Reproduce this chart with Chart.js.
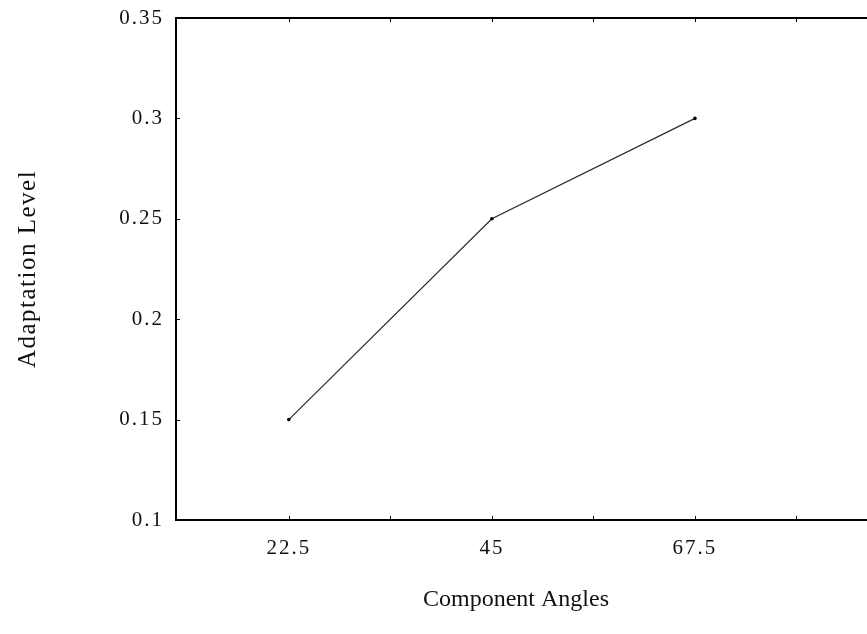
<!DOCTYPE html>
<html>
<head>
<meta charset="utf-8">
<script src="https://cdn.jsdelivr.net/npm/chart.js@4/dist/chart.umd.min.js"></script>
<style>
html,body{margin:0;padding:0;background:#fff;overflow:hidden;width:867px;height:634px;}
#wrap{position:absolute;left:0;top:0;width:902px;height:634px;}
</style>
</head>
<body>
<div id="wrap"><canvas id="c" width="902" height="634"></canvas></div>
<script>
const angles = [22.5, 45, 67.5];
const adaptation = [0.15, 0.25, 0.30];
const xLabelTicks = [22.5, 45, 67.5];
const xMinorTicks = [22.5, 33.75, 45, 56.25, 67.5, 78.75];
const yTicks = [0.1, 0.15, 0.2, 0.25, 0.3, 0.35];

const FONT = "'Liberation Serif', 'Times New Roman', serif";

const styling = {
  id: 'styling',
  afterLayout(chart) {
    const ctx = chart.ctx;
    const cfg = {
      x: { labels: '2px', title: '0px', shift: -21 },
      y: { labels: '2px', title: '1.5px', shift: 0 }
    };
    Object.keys(cfg).forEach(id => {
      const s = chart.scales[id];
      if (!s || s._patched) return;
      const oL = s.drawLabels, oT = s.drawTitle;
      s.drawLabels = function (a) { ctx.save(); ctx.letterSpacing = cfg[id].labels; oL.call(this, a); ctx.restore(); };
      s.drawTitle = function (a) {
        ctx.save(); ctx.letterSpacing = cfg[id].title; ctx.translate(cfg[id].shift, 0);
        oT.call(this, a); ctx.restore();
      };
      s._patched = true;
    });
  },
  afterDraw(chart) {
    const ctx = chart.ctx, a = chart.chartArea;
    const xs = chart.scales.x, ys = chart.scales.y;
    ctx.save();
    ctx.strokeStyle = '#000';
    ctx.lineWidth = 2;
    ctx.beginPath();
    ctx.moveTo(a.left - 1, a.top);
    ctx.lineTo(a.right + 5, a.top);
    ctx.stroke();
    ctx.lineWidth = 1;
    ctx.beginPath();
    xs.ticks.forEach(t => {
      const px = Math.round(xs.getPixelForValue(t.value)) + 0.5;
      ctx.moveTo(px, a.bottom); ctx.lineTo(px, a.bottom - 4);
      ctx.moveTo(px, a.top); ctx.lineTo(px, a.top + 4);
    });
    ys.ticks.forEach(t => {
      const py = Math.round(ys.getPixelForValue(t.value)) + 0.5;
      ctx.moveTo(a.left, py); ctx.lineTo(a.left + 4, py);
    });
    ctx.stroke();
    ctx.restore();
  }
};

new Chart(document.getElementById('c'), {
  type: 'line',
  data: {
    datasets: [{
      data: angles.map((x, i) => ({x: x, y: adaptation[i]})),
      borderColor: '#2a2a2a',
      borderWidth: 1.2,
      pointRadius: 1.8,
      pointBackgroundColor: '#000',
      pointBorderWidth: 0,
      tension: 0
    }]
  },
  plugins: [styling],
  options: {
    responsive: false,
    animation: false,
    events: [],
    layout: { padding: { left: 0, top: 18, right: 4, bottom: 0 } },
    plugins: { legend: { display: false }, tooltip: { enabled: false } },
    scales: {
      x: {
        type: 'linear',
        min: 10,
        max: 90,
        afterFit(s) { s.height = 114; s.paddingLeft = 0; s.paddingRight = 0; },
        afterBuildTicks(s) { s.ticks = xMinorTicks.map(v => ({value: v})); },
        border: { display: true, color: '#000', width: 2 },
        grid: { display: false, drawTicks: false },
        ticks: {
          color: '#111',
          padding: 16,
          font: { family: FONT, size: 21 },
          callback: (v) => xLabelTicks.includes(v) ? String(v) : ''
        },
        title: {
          display: true,
          text: 'Component Angles',
          color: '#111',
          font: { family: FONT, size: 24 },
          padding: { top: 0, bottom: 20 }
        }
      },
      y: {
        min: 0.1,
        max: 0.35,
        afterFit(s) { s.width = 176; s.paddingTop = 0; s.paddingBottom = 0; },
        afterBuildTicks(s) { s.ticks = yTicks.map(v => ({value: v})); },
        border: { display: true, color: '#000', width: 2 },
        grid: { display: false, drawTicks: false },
        ticks: {
          color: '#111',
          padding: 12,
          font: { family: FONT, size: 21 },
          callback: (v) => String(v)
        },
        title: {
          display: true,
          text: 'Adaptation Level',
          color: '#111',
          font: { family: FONT, size: 25 },
          padding: { top: 13, bottom: 0 }
        }
      }
    }
  }
});
</script>
</body>
</html>
